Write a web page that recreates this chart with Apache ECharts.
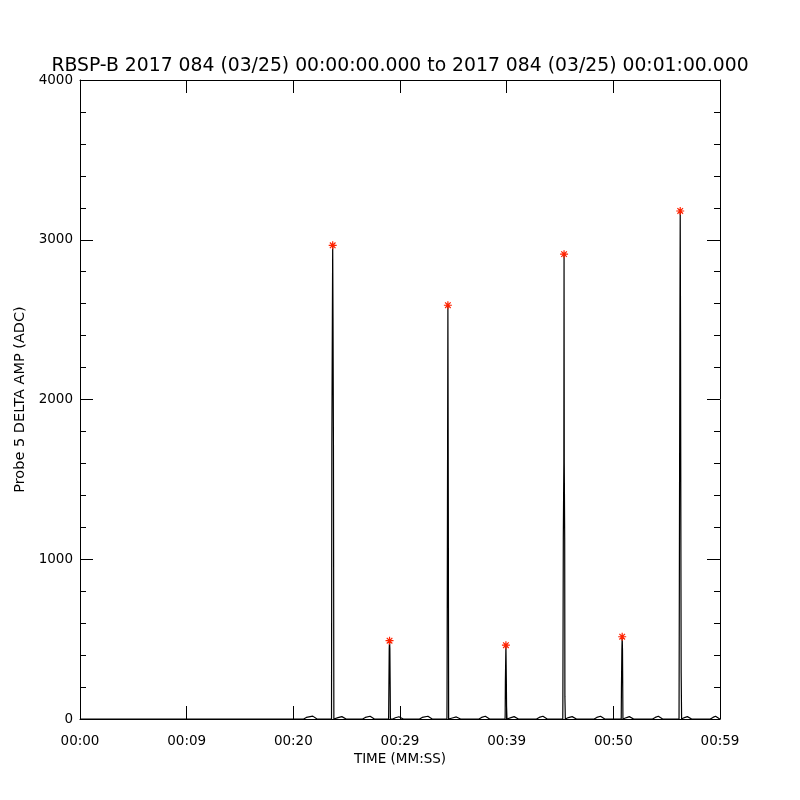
<!DOCTYPE html>
<html>
<head>
<meta charset="utf-8">
<script src="https://cdn.jsdelivr.net/npm/echarts@6/dist/echarts.min.js"></script>
<style>html,body{margin:0;padding:0;background:#fff}#c{width:800px;height:800px}</style>
</head>
<body>
<div id="c"></div>
<script>
// Tick labels of the time axis (one per major tick, 10 s apart)
const xTickLabels = ['00:00', '00:09', '00:20', '00:29', '00:39', '00:50', '00:59'];
const yTicks = [0, 1000, 2000, 3000, 4000];

// Trace: time (s) and delta amplitude (ADC)
const traceTimes = [
  0.00, 20.97,
  20.97, 21.22, 21.37, 21.82, 21.97, 22.22,
  23.58, 23.61, 23.66, 23.69, 23.72, 23.76, 23.80,
  23.94, 24.19, 24.34, 24.55, 24.70, 24.95,
  26.50, 26.75, 26.90, 27.20, 27.35, 27.60,
  28.93, 28.94, 28.97, 28.99, 29.02, 29.05, 29.08, 29.10,
  29.32, 29.57, 29.72, 29.90, 30.05, 30.30,
  31.83, 32.08, 32.23, 32.62, 32.77, 33.02,
  34.40, 34.41, 34.43, 34.45, 34.49, 34.53, 34.56,
  34.74, 34.99, 35.14, 35.28, 35.43, 35.68,
  37.40, 37.65, 37.80, 38.00, 38.15, 38.40,
  39.85, 39.86, 39.88, 39.93, 39.97, 39.99, 40.02, 40.03,
  40.16, 40.41, 40.56, 40.70, 40.85, 41.10,
  42.80, 43.05, 43.20, 43.40, 43.55, 43.80,
  45.26, 45.27, 45.29, 45.31, 45.36, 45.38, 45.40, 45.44, 45.46, 45.49, 45.50,
  45.54, 45.79, 45.94, 46.14, 46.29, 46.54,
  48.20, 48.45, 48.60, 48.80, 48.95, 49.20,
  50.74, 50.76, 50.80, 50.83, 50.86, 50.90,
  51.00, 51.25, 51.40, 51.50, 51.65, 51.90,
  53.68, 53.93, 54.08, 54.22, 54.37, 54.62,
  56.16, 56.19, 56.24, 56.27, 56.30, 56.34, 56.36, 56.39, 56.40,
  56.42, 56.67, 56.82, 56.94, 57.09, 57.34,
  59.09, 59.34, 59.49, 59.58, 59.73, 59.98
];
const traceAmps = [
  0, 0,
  0, 10, 18, 18, 10, 0,
  0, 1710, 2510, 2965, 2510, 1710, 0,
  0, 9, 15, 15, 9, 0,
  0, 10, 17, 17, 10, 0,
  0, 45, 45, 440, 490, 440, 200, 0,
  0, 8, 14, 14, 8, 0,
  0, 10, 17, 17, 10, 0,
  0, 130, 130, 1300, 2590, 1300, 0,
  0, 8, 13, 13, 8, 0,
  0, 10, 17, 17, 10, 0,
  0, 30, 240, 462, 240, 80, 80, 0,
  0, 9, 15, 15, 9, 0,
  0, 10, 17, 17, 10, 0,
  0, 108, 108, 1130, 1600, 2910, 1600, 1130, 140, 140, 0,
  0, 9, 15, 15, 9, 0,
  0, 10, 17, 17, 10, 0,
  0, 190, 430, 515, 430, 0,
  0, 9, 15, 15, 9, 0,
  0, 10, 17, 17, 10, 0,
  0, 860, 2430, 3180, 2430, 860, 290, 290, 0,
  0, 9, 15, 15, 9, 0,
  0, 10, 17, 17, 10, 0
];

// Detected peaks (red asterisks)
const peakTimes = [23.69, 29.02, 34.49, 39.93, 45.38, 50.83, 56.27];
const peakAmps = [2965, 490, 2590, 462, 2910, 515, 3180];

const titleText = 'RBSP-B 2017 084 (03/25) 00:00:00.000 to 2017 084 (03/25) 00:01:00.000';
const xName = 'TIME (MM:SS)';
const yName = 'Probe 5 DELTA AMP (ADC)';

const FONT = 'DejaVu Sans';
const traceData = traceTimes.map((t, i) => [t, traceAmps[i]]);
const peakData = peakTimes.map((t, i) => [t, peakAmps[i]]);

const chart = echarts.init(document.getElementById('c'), null, {renderer: 'canvas'});
const axisLine = {show: true, onZero: false, lineStyle: {color: '#000', width: 1}};
chart.setOption({
  animation: false,
  backgroundColor: '#fff',
  title: {
    text: titleText, left: 'center', top: 52,
    textStyle: {fontFamily: FONT, fontSize: 18.8, fontWeight: 'normal', color: '#000'}
  },
  grid: {left: 80, right: 80, top: 80, bottom: 81, containLabel: false},
  xAxis: [{
    type: 'value', min: 0, max: 60, interval: 10, position: 'bottom',
    axisLine: axisLine,
    axisTick: {show: true, inside: true, length: 13, lineStyle: {color: '#000'}},
    axisLabel: {
      margin: 15, fontFamily: FONT, fontSize: 13.5, color: '#000',
      formatter: v => xTickLabels[Math.round(v / 10)]
    },
    splitLine: {show: false},
    name: xName, nameLocation: 'middle', nameGap: 32,
    nameTextStyle: {fontFamily: FONT, fontSize: 13.5, color: '#000'}
  }, {
    type: 'value', min: 0, max: 60, interval: 10, position: 'top',
    axisLine: axisLine,
    axisTick: {show: true, inside: true, length: 13, lineStyle: {color: '#000'}},
    axisLabel: {show: false}, splitLine: {show: false}
  }],
  yAxis: [{
    type: 'value', min: yTicks[0], max: yTicks[yTicks.length - 1], interval: 1000, position: 'left',
    axisLine: axisLine,
    axisTick: {show: true, inside: true, length: 13, lineStyle: {color: '#000'}},
    minorTick: {show: true, splitNumber: 5, length: 6, lineStyle: {color: '#000'}},
    axisLabel: {margin: 7, fontFamily: FONT, fontSize: 13.5, color: '#000', formatter: v => String(v)},
    splitLine: {show: false},
    name: yName, nameLocation: 'middle', nameGap: 41, nameRotate: 90,
    nameTextStyle: {fontFamily: FONT, fontSize: 14.5, color: '#000'}
  }, {
    type: 'value', min: yTicks[0], max: yTicks[yTicks.length - 1], interval: 1000, position: 'right',
    axisLine: axisLine,
    axisTick: {show: true, inside: true, length: 13, lineStyle: {color: '#000'}},
    minorTick: {show: true, splitNumber: 5, length: 6, lineStyle: {color: '#000'}},
    axisLabel: {show: false}, splitLine: {show: false}
  }],
  series: [{
    type: 'line', data: traceData, xAxisIndex: 0, yAxisIndex: 0,
    showSymbol: false, symbol: 'none', sampling: null,
    lineStyle: {color: '#000', width: 1.2}, z: 2
  }, {
    type: 'scatter', data: peakData, xAxisIndex: 0, yAxisIndex: 0,
    symbol: 'path://M4,0L4,8M0,4L8,4M1.2,1.2L6.8,6.8M1.2,6.8L6.8,1.2',
    symbolSize: 8,
    itemStyle: {color: 'rgba(0,0,0,0)', borderColor: '#ff2200', borderWidth: 1.2, opacity: 1},
    z: 3
  }]
});
</script>
</body>
</html>
